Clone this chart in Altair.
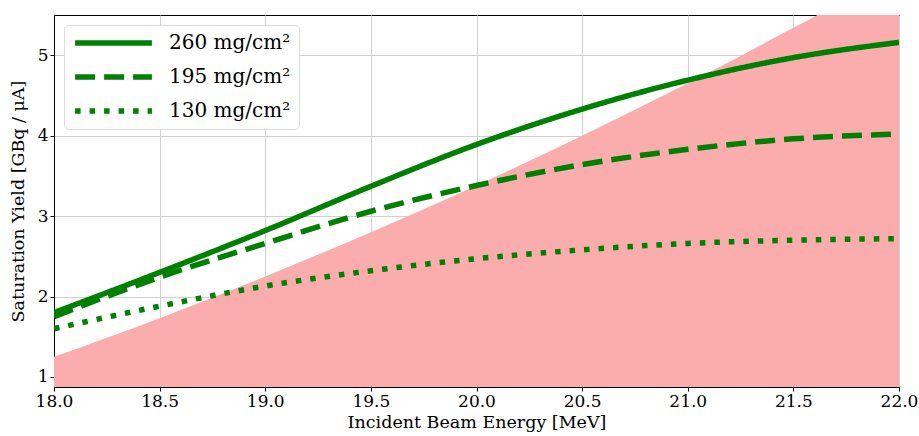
import altair as alt
import pandas as pd

energy = [18.0, 18.5, 19.0, 19.5, 20.0, 20.5, 21.0, 21.5, 22.0]
y260 = [1.80, 2.30, 2.82, 3.37, 3.89, 4.33, 4.69, 4.97, 5.16]
y195 = [1.75, 2.24, 2.66, 3.06, 3.38, 3.64, 3.83, 3.96, 4.02]
y130 = [1.60, 1.88, 2.13, 2.32, 2.47, 2.58, 2.66, 2.70, 2.72]
limit = [1.25, 1.73, 2.25, 2.80, 3.38, 4.00, 4.65, 5.34, 6.05]
series = ["260 mg/cm²", "195 mg/cm²", "130 mg/cm²"]

rows = []
for name, vals in zip(series, [y260, y195, y130]):
    for e, v in zip(energy, vals):
        rows.append({"E": e, "Y": v, "s": name})
lines_df = pd.DataFrame(rows)
area_df = pd.DataFrame({"E": energy, "Y": limit})

FONT = "DejaVu Serif"
xs = alt.Scale(domain=[18, 22], nice=False, zero=False)
ys = alt.Scale(domain=[0.875, 5.5], nice=False, zero=False)

xaxis = alt.Axis(values=[18.0, 18.5, 19.0, 19.5, 20.0, 20.5, 21.0, 21.5, 22.0], format=".1f",
                 title="Incident Beam Energy [MeV]", labelFlush=False, labelPadding=2,
                 titlePadding=4)
yaxis = alt.Axis(values=[1, 2, 3, 4, 5], format="d", title="Saturation Yield [GBq / μA]",
                 labelPadding=2, titlePadding=10)

area = alt.Chart(area_df).mark_area(color="#fbadad", opacity=1, clip=True, interpolate="monotone").encode(
    x=alt.X("E:Q", scale=xs, axis=xaxis),
    y=alt.Y("Y:Q", scale=ys, axis=yaxis),
    y2=alt.datum(0.875),
)

lines = alt.Chart(lines_df).mark_line(color="green", strokeWidth=5.5, strokeCap="butt",
                                      interpolate="monotone", clip=True).encode(
    x=alt.X("E:Q", scale=xs),
    y=alt.Y("Y:Q", scale=ys),
    strokeDash=alt.StrokeDash("s:N", sort=series,
                              scale=alt.Scale(domain=series, range=[[1, 0], [20, 9], [5.5, 9]]),
                              legend=alt.Legend(title=None, orient="none", legendX=10, legendY=10,
                                                symbolType="stroke", symbolSize=5900,
                                                symbolStrokeWidth=5.5, symbolStrokeColor="green",
                                                clipHeight=20,
                                                labelFont=FONT, labelFontSize=20, labelColor="black",
                                                labelOffset=14, rowPadding=14, padding=8,
                                                fillColor="white", strokeColor="#dddddd",
                                                cornerRadius=4)),
    detail="s:N",
)

chart = alt.layer(area, lines).properties(
    width=845, height=372,
    autosize=alt.AutoSizeParams(type="none"),
    padding={"left": 54, "top": 15, "right": 20, "bottom": 49},
    background="white",
).configure_axis(
    labelFont=FONT, titleFont=FONT, labelFontSize=17, titleFontSize=17.5,
    labelColor="black", titleColor="black", titleFontWeight="normal",
    gridColor="#d0d0d0", gridWidth=1, domainColor="black", tickColor="black",
    tickSize=4,
).configure_view(
    stroke="black", strokeWidth=1
)

chart.save("out.html", embed_options={"renderer": "svg", "actions": False})
